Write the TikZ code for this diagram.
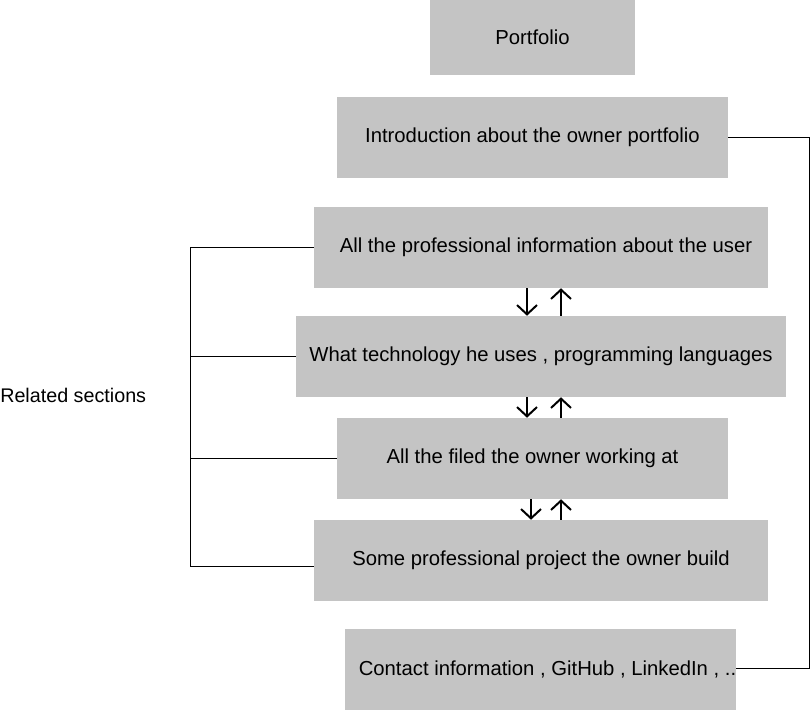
\documentclass[tikz,border=0pt]{standalone}
\usepackage{fontspec}
\setmainfont{Liberation Sans}
\usetikzlibrary{arrows.meta}
\definecolor{boxgray}{RGB}{196,196,196}

\begin{document}
\begin{tikzpicture}[
    x=0.75pt, y=-0.75pt,
    sec/.style={fill=boxgray, minimum height=60.75pt, inner sep=0pt, font=\fontsize{15.2}{18}\selectfont},
    lbl/.style={inner sep=0pt, font=\fontsize{14.8}{18}\selectfont},
    link/.style={line width=0.75pt},
    arr/.style={-{Straight Barb[length=7pt, width=15pt]}, line width=1.5pt}
]
\useasboundingbox (0,0) rectangle (811,710);

\node[sec, minimum width=153.75pt, minimum height=56.25pt] (port) at (532.5,37.5) {Portfolio};
\node[sec, minimum width=293.25pt] (intro) at (532.5,137.5) {Introduction about the owner portfolio};
\node[sec, minimum width=340.5pt] (prof) at (541,247.5) {\hspace*{7.5pt}All the professional information about the user};
\node[sec, minimum width=367.5pt] (tech) at (541,356.5) {What technology he uses , programming languages};
\node[sec, minimum width=293.25pt] (filed) at (532.5,458.5) {All the filed the owner working at};
\node[sec, minimum width=340.5pt] (proj) at (541,560.5) {Some professional project the owner build};
\node[sec, minimum width=293.25pt] (contact) at (540.5,669.5) {\hspace*{10.5pt}Contact information , GitHub , LinkedIn , ..};
\node[lbl, anchor=west] (rel) at (0,395) {Related sections};

\coordinate (rside) at (809,0);
\coordinate (lside) at (190,0);
\coordinate (dn) at (527,0);
\coordinate (dn2) at (531,0);
\coordinate (up) at (561,0);

% right side link
\draw[link] (intro.east) -- (intro.east -| rside) |- ([yshift=1pt]contact.east);

% related sections bracket
\draw[link] (prof.west) -- (prof.west -| lside) -- ([yshift=-4.5pt]proj.west -| lside) -- ([yshift=-4.5pt]proj.west);
\draw[link] (tech.west) -- (tech.west -| lside);
\draw[link] (filed.west) -- (filed.west -| lside);

% up and down arrows
\draw[arr] (prof.south -| dn) -- (tech.north -| dn);
\draw[arr] (tech.north -| up) -- (prof.south -| up);
\draw[arr] (tech.south -| dn) -- (filed.north -| dn);
\draw[arr] (filed.north -| up) -- (tech.south -| up);
\draw[arr] (filed.south -| dn2) -- (proj.north -| dn2);
\draw[arr] (proj.north -| up) -- (filed.south -| up);
\end{tikzpicture}
\end{document}
